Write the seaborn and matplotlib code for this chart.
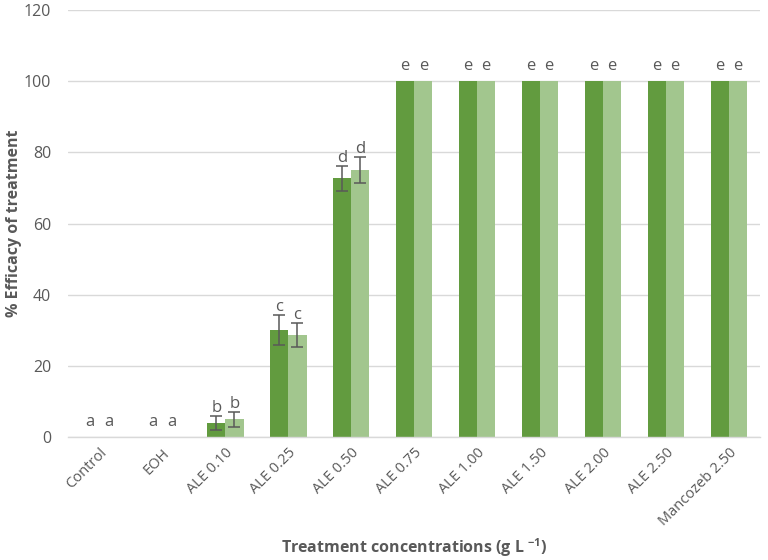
import matplotlib
matplotlib.use("Agg")
import matplotlib.pyplot as plt
import seaborn as sns
import pandas as pd
import numpy as np

categories = ["Control", "EOH", "ALE 0.10", "ALE 0.25", "ALE 0.50", "ALE 0.75",
              "ALE 1.00", "ALE 1.50", "ALE 2.00", "ALE 2.50", "Mancozeb 2.50"]
series1 = [0, 0, 4.0, 30.2, 72.7, 100, 100, 100, 100, 100, 100]
series2 = [0, 0, 5.0, 28.7, 75.0, 100, 100, 100, 100, 100, 100]
err1 = [0, 0, 2.0, 4.2, 3.6, 0, 0, 0, 0, 0, 0]
err2 = [0, 0, 2.1, 3.3, 3.6, 0, 0, 0, 0, 0, 0]
letters1 = ["a", "a", "b", "c", "d", "e", "e", "e", "e", "e", "e"]
letters2 = ["a", "a", "b", "c", "d", "e", "e", "e", "e", "e", "e"]
series_names = ["Series 1", "Series 2"]

df = pd.DataFrame({
    "Treatment": categories * 2,
    "Efficacy": series1 + series2,
    "Series": [series_names[0]] * len(categories) + [series_names[1]] * len(categories),
})

sns.set_theme(style="white")
plt.rcParams["font.family"] = ["Open Sans", "DejaVu Sans"]

fig = plt.figure(figsize=(7.68, 5.6), dpi=100)
ax = fig.add_axes([0.0885, 0.2196, 0.9015, 0.7625])

palette = {series_names[0]: "#629B3F", series_names[1]: "#A2C68E"}
sns.barplot(data=df, x="Treatment", y="Efficacy", hue="Series", order=categories,
            hue_order=series_names, palette=palette, errorbar=None, width=0.58,
            saturation=1, ax=ax, legend=False, linewidth=0)

txtc = "#595959"
for cont, errs, letters in zip(ax.containers, [err1, err2], [letters1, letters2]):
    for bar, e, lab in zip(cont, errs, letters):
        xc = bar.get_x() + bar.get_width() / 2
        h = bar.get_height()
        if e > 0:
            ax.errorbar(xc, h, yerr=e, fmt="none", ecolor="#595959", elinewidth=1.1,
                        capsize=4, capthick=1.1, zorder=5)
            off = 0.0
        else:
            off = 2.0
        ax.text(xc, h + e + off, lab, ha="center", va="bottom", fontsize=12, color=txtc,
                zorder=6)

ax.set_ylim(0, 120)
ax.set_yticks(range(0, 121, 20))
ax.set_xlim(-0.5, len(categories) - 0.5)
ax.yaxis.grid(True, color="#D9D9D9", linewidth=1)
ax.set_axisbelow(True)
for s in ["top", "right", "left"]:
    ax.spines[s].set_visible(False)
ax.spines["bottom"].set_color("#D9D9D9")
ax.spines["bottom"].set_linewidth(1)

ax.tick_params(axis="y", length=0, labelsize=11.5, labelcolor=txtc, pad=12)
ax.tick_params(axis="x", length=0, labelsize=10.5, labelcolor=txtc, pad=6)
ax.set_xticks(range(len(categories)))
ax.set_xticklabels(categories, rotation=45, ha="right", rotation_mode="anchor")

ax.set_ylabel("% Efficacy of treatment", fontsize=11.5, fontweight="bold", color=txtc,
              va="center")
ax.yaxis.set_label_coords(-0.078, 0.5)
ax.set_xlabel("Treatment concentrations (g L $^{\\mathregular{-1}}$)", fontsize=11.5,
              fontweight="bold", color=txtc, va="center")
ax.xaxis.set_label_coords(0.5, -0.258)

fig.savefig("out.png", dpi=100)
